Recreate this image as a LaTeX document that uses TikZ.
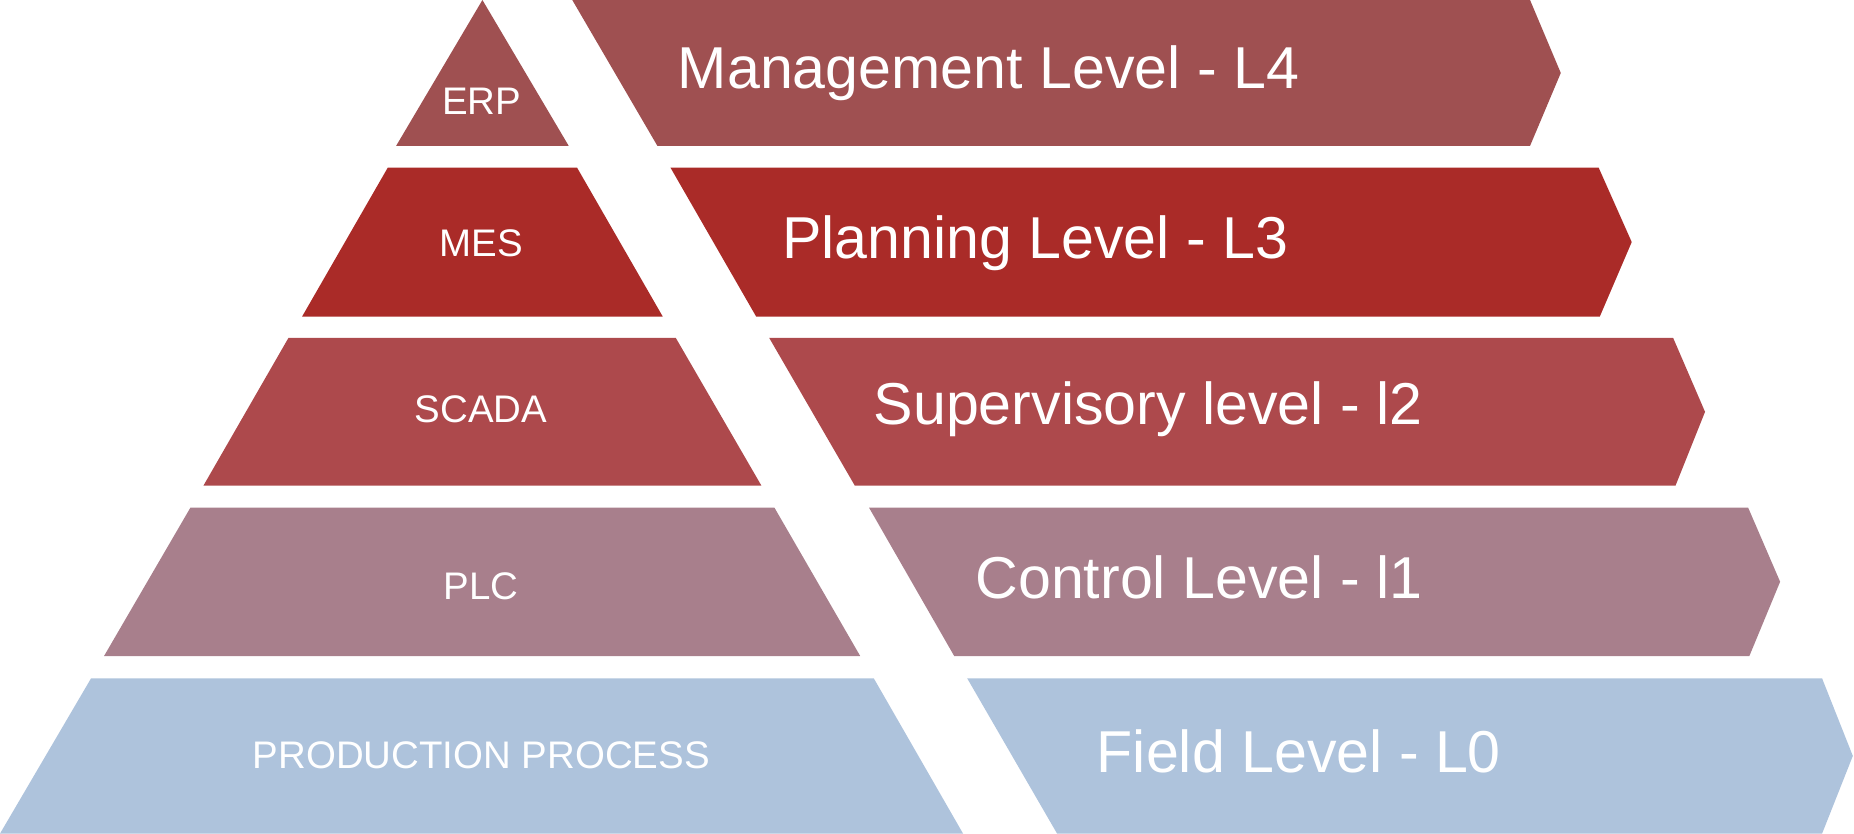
\documentclass[tikz,border=0pt]{standalone}
\usepackage{fontspec}
\setmainfont{Liberation Sans}
\definecolor{cfour}{RGB}{159,80,81}
\definecolor{cthree}{RGB}{170,43,40}
\definecolor{ctwo}{RGB}{173,73,76}
\definecolor{cone}{RGB}{168,127,140}
\definecolor{czero}{RGB}{174,195,220}
\tikzset{
  bigtxt/.style={text=white, anchor=base, inner sep=0pt, font=\fontsize{50}{60}\selectfont},
  smalltxt/.style={text=white, anchor=base, inner sep=0pt, font=\fontsize{32.5}{39}\selectfont},
}
\begin{document}
\begin{tikzpicture}[x=1pt,y=-1pt]
\useasboundingbox (0,0) rectangle (1568,705);
% Row L4
\fill[cfour] (408,0) -- (481,123.4) -- (335,123.4) -- cycle;
\fill[cfour] (484,0) -- (1294,0) -- (1320,61.7) -- (1294,123.4) -- (556,123.4) -- cycle;
% Row L3
\fill[cthree] (328,141.7) -- (488,141.7) -- (560.5,267.7) -- (255.5,267.7) -- cycle;
\fill[cthree] (567,141.7) -- (1352,141.7) -- (1380,204.7) -- (1353,267.7) -- (639.5,267.7) -- cycle;
% Row L2
\fill[ctwo] (244,285.7) -- (571.5,285.7) -- (644,410.8) -- (172,410.8) -- cycle;
\fill[ctwo] (650.5,285.7) -- (1415,285.7) -- (1442,348.3) -- (1417,410.8) -- (723,410.8) -- cycle;
% Row L1
\fill[cone] (161,429.4) -- (655,429.4) -- (727.5,554.8) -- (88,554.8) -- cycle;
\fill[cone] (735,429.4) -- (1478.5,429.4) -- (1505.5,492) -- (1479.5,554.8) -- (807,554.8) -- cycle;
% Row L0
\fill[czero] (77,573.7) -- (739,573.7) -- (814.5,705) -- (0,705) -- cycle;
\fill[czero] (818,573.7) -- (1541,573.7) -- (1567,639.3) -- (1541,705) -- (894,705) -- cycle;
% Labels
\node[smalltxt] (erp) at (407.5,97.2) {ERP};
\node[smalltxt] (mes) at (407,217) {MES};
\node[smalltxt] (scada) at (406.7,357.3) {SCADA};
\node[smalltxt] (plc) at (406.7,507.2) {PLC};
\node[smalltxt] (prod) at (407,650) {PRODUCTION PROCESS};
\node[bigtxt] (l4) at (836,74.6) {Management Level - L4};
\node[bigtxt] (l3) at (875.5,219) {Planning Level - L3};
\node[bigtxt] (l2) at (971,359.3) {Supervisory level - l2};
\node[bigtxt] (l1) at (1014,506) {Control Level - l1};
\node[bigtxt] (l0) at (1098.5,653.5) {Field Level - L0};
\end{tikzpicture}
\end{document}
